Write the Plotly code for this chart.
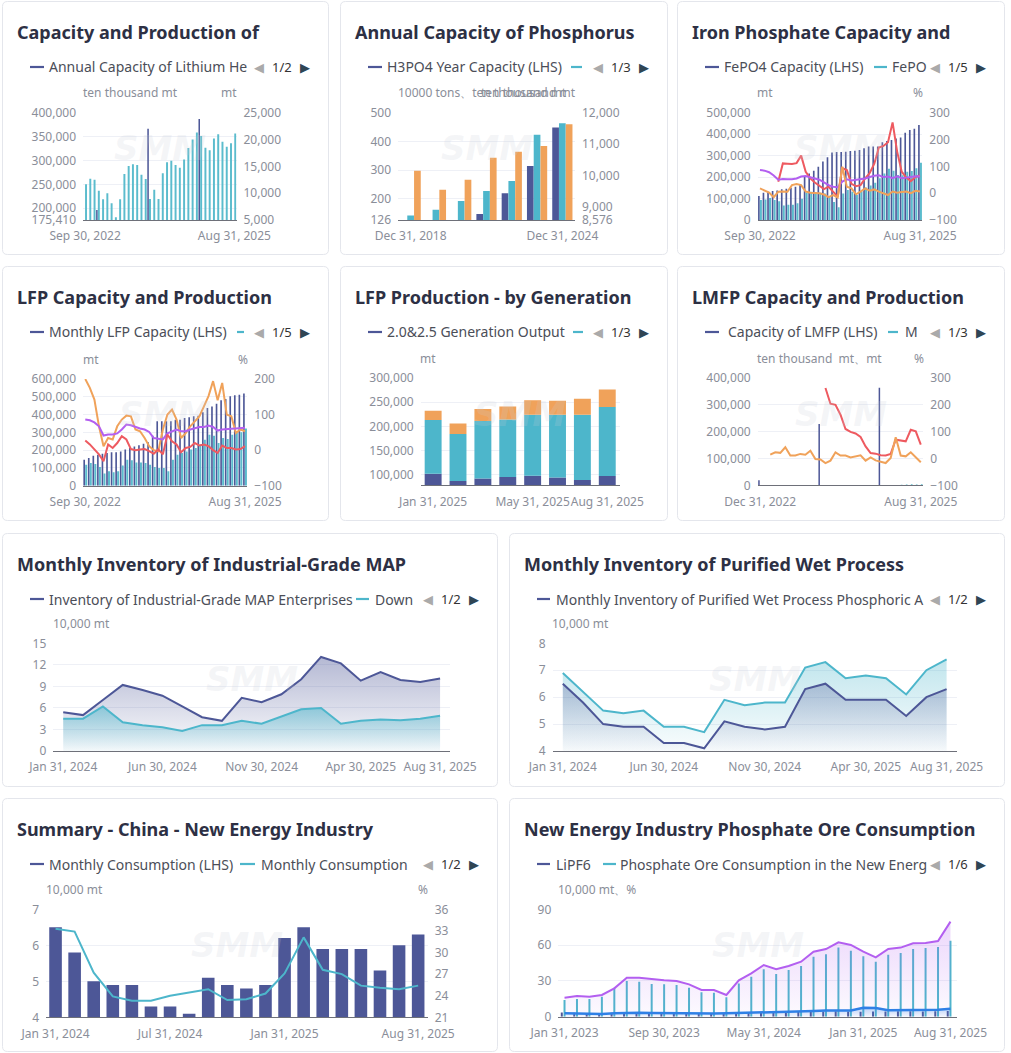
import plotly.graph_objects as go
import pandas as pd

W, H = 1011, 1053
FONT = "Noto Sans"
NAVY = "#4d5797"
TEAL = "#4db6cb"
TEAL_BAR = "#5bbccd"
ORANGE = "#f0a25a"
RED = "#ee5a60"
PURPLE = "#b35ff0"
BLUE = "#2f80e6"
GRID = "#eef0f6"
AXLINE = "#6e7079"
TICKC = "#8a8e99"
TITLEC = "#2d3044"
LEGC = "#4b4e58"


def month_ends(start, end):
    return [d.strftime("%b %d, %Y") for d in pd.date_range(start, end, freq="ME")]


# ---------------------------------------------------------------- data
# Panel 1 - Capacity and Production of Lithium Hexafluorophosphate
P1_DATES = month_ends("2022-09-01", "2025-08-31")
P1_CAP_DATES = ["Dec 31, 2022", "Dec 31, 2023", "Dec 31, 2024"]
P1_CAPACITY = [196300, 366500, 386750]
P1_PRODUCTION = [11650, 12700, 12500, 10470, 8850, 10000, 8100, 5500, 8850, 13570,
                 15060, 15370, 15250, 13450, 12640, 8900, 10650, 8900, 13700, 15750,
                 16060, 15250, 14750, 16300, 18400, 20000, 21300, 20650, 18480, 18000,
                 20200, 21000, 19600, 18660, 19300, 21100]

# Panel 2 - Annual Capacity of Phosphorus
P2_YEARS = ["Dec 31, 2018", "Dec 31, 2019", "Dec 31, 2020", "Dec 31, 2021",
            "Dec 31, 2022", "Dec 31, 2023", "Dec 31, 2024"]
P2_H3PO4_CAP = [None, None, None, 147, 219, 314, 448]
P2_SERIES_2 = [142, 162, 192, 227, 262, 423, 463]
P2_SERIES_3 = [10150, 9544, 9863, 10565, 10757, 10938, 11629]

# Panel 3 - Iron Phosphate Capacity and Production
P3_DATES = month_ends("2022-09-01", "2025-08-31")
P3_CAPACITY = [111800, 127000, 132000, 135000, 137000, 143000, 146000, 150000, 155000, 163000,
               202000, 217000, 230000, 248000, 273000, 292000, 314000, 317000, 317000, 318000,
               321000, 323000, 326000, 334000, 342000, 342000, 342000, 362000, 368000, 373000,
               380000, 385000, 407000, 419000, 425000, 443000]
P3_PRODUCTION = [93000, 96000, 102000, 93000, 87000, 67000, 71000, 71000, 78000, 99000,
                 127000, 132000, 127000, 127000, 124000, 106000, 84000, 59000, 124000, 140000,
                 132000, 116000, 132000, 151000, 161000, 174000, 194000, 217000, 239000, 230000,
                 210000, 208000, 225000, 228000, 241000, 267000]
P3_RATE_RED = [None, None, None, None, 43, 111, 110, 109, 112, 140,
               80, 55, 40, 28, 15, 24, 5, -13, 93, 86,
               35, 26, 30, 55, 75, 110, 170, 176, 190, 264,
               155, 80, 58, 45, 60, 66]
P3_RATE_PURPLE = [86, 84, 78, 66, 50, 53, 52, 52, 55, 62,
                  64, 60, 56, 50, 40, 30, 24, 22, 43, 52,
                  47, 49, 52, 55, 60, 65, 67, 60, 62, 56,
                  63, 56, 58, 60, 63, 62]
P3_RATE_ORANGE = [18, 9, 2, -15, 5, 6, 5, 30, 34, 30,
                  6, 2, 2, 0, -5, -15, -7, -16, 99, 24,
                  18, -4, 6, 18, 9, 14, 6, 0, -7, 6,
                  2, 4, 6, 0, 9, 6]

# Panel 4 - LFP Capacity and Production
P4_DATES = month_ends("2022-09-01", "2025-08-31")
P4_CAPACITY = [146000, 156000, 169000, 174000, 180000, 184000, 188000, 188000, 193000, 203000,
               212000, 221000, 227000, 236000, 244000, 281000, 362000, 362000, 362000, 362000,
               371000, 371000, 381000, 385000, 390000, 394000, 413000, 437000, 446000, 461000,
               480000, 488000, 503000, 508000, 512000, 518000]
P4_PRODUCTION = [118000, 128000, 122000, 105000, 68000, 81000, 75000, 81000, 113000, 146000,
                 143000, 131000, 131000, 128000, 118000, 105000, 99000, 99000, 81000, 146000,
                 174000, 184000, 193000, 203000, 212000, 231000, 259000, 287000, 281000, 240000,
                 268000, 263000, 287000, 296000, 300000, 321000]
P4_RATE_ORANGE = [200, 175, 142, 67, 11, 34, 30, 67, 86, 97,
                  95, 58, 53, 34, 11, 0, -3, 58, 100, 114,
                  86, 34, 48, 67, 81, 95, 123, 152, 194, 140,
                  189, 100, 95, 48, 58, 53]
P4_RATE_PURPLE = [86, 84, 78, 67, 41, 44, 44, 47, 58, 72,
                  70, 65, 61, 58, 51, 34, 32, 30, 47, 53,
                  58, 53, 53, 58, 61, 65, 65, 69, 65, 55,
                  58, 58, 60, 61, 61, 63]
P4_RATE_RED = [27, 16, 2, -12, -31, 16, 6, 20, 39, 30,
               3, 0, 2, 3, -3, -10, 2, -12, 44, 25,
               16, -6, 6, 9, 20, 13, 16, 11, 0, -8,
               13, 6, 6, 2, 3, 11]

# Panel 5 - LFP Production by Generation (stacked)
P5_DATES = month_ends("2025-01-01", "2025-08-31")
P5_GEN_2_25 = [102000, 87000, 92000, 95000, 98000, 94000, 89000, 97000]
P5_GEN_3 = [111000, 97000, 119000, 119000, 126000, 130000, 135000, 143000]
P5_GEN_4 = [19000, 22000, 25000, 27000, 30000, 29000, 33000, 36000]

# Panel 6 - LMFP Capacity and Production
P6_DATES = month_ends("2022-12-01", "2025-08-31")
P6_CAP_DATES = ["Dec 31, 2022", "Dec 31, 2023", "Dec 31, 2024"]
P6_CAPACITY = [18600, 228600, 364000]
P6_PRODUCTION = [None] * 28 + [2500, 3000, 3500, 3000, 3800]
P6_RATE_RED = [None] * 13 + [263, 204, 200, 163, 110, 99, 93, 80, 45, 20,
                             18, 12, 11, 17, 70, 68, 64, 107, 101, 52]
P6_RATE_ORANGE = [None, None, 14, 23, 21, 42, 11, 11, 17, 14, 29, -2, -4, -17, -8, 23,
                  11, 11, 4, 8, 12, -8, 4, -7, -13, -17, 2, 79, 11, 8, 23, 6, -14]

# Panel 7 - Monthly Inventory of Industrial-Grade MAP
P7_DATES = month_ends("2024-01-01", "2025-08-31")
P7_ENTERPRISES = [5.4, 5.0, 7.1, 9.2, 8.5, 7.7, 6.2, 4.7, 4.2, 7.4,
                  6.8, 7.9, 10.0, 13.1, 12.2, 9.8, 11.0, 9.9, 9.6, 10.1]
P7_DOWNSTREAM = [4.5, 4.5, 6.2, 4.0, 3.6, 3.3, 2.8, 3.6, 3.6, 4.2,
                 3.8, 4.8, 5.8, 6.0, 3.8, 4.2, 4.4, 4.3, 4.5, 4.9]

# Panel 8 - Monthly Inventory of Purified Wet Process Phosphoric Acid
P8_DATES = month_ends("2024-01-01", "2025-08-31")
P8_SERIES_1 = [6.5, 5.8, 5.0, 4.9, 4.9, 4.3, 4.3, 4.1, 5.1, 4.9,
               4.8, 4.9, 6.3, 6.5, 5.9, 5.9, 5.9, 5.3, 6.0, 6.3]
P8_SERIES_2 = [6.9, 6.2, 5.5, 5.4, 5.5, 4.9, 4.9, 4.7, 5.9, 5.7,
               5.8, 5.8, 7.1, 7.3, 6.7, 6.8, 6.7, 6.1, 7.0, 7.4]

# Panel 9 - Summary - China - New Energy Industry
P9_DATES = month_ends("2024-01-01", "2025-08-31")
P9_CONSUMPTION = [6.5, 5.8, 5.0, 4.9, 4.9, 4.3, 4.3, 4.1, 5.1, 4.9,
                  4.8, 4.9, 6.2, 6.5, 5.9, 5.9, 5.9, 5.3, 6.0, 6.3]
P9_SHARE = [33.3, 32.9, 27.2, 23.9, 23.3, 23.3, 24.0, 24.4, 24.9, 23.4,
            23.5, 24.3, 27.1, 32.1, 27.6, 27.0, 25.4, 25.1, 24.9, 25.4]

# Panel 10 - New Energy Industry Phosphate Ore Consumption
P10_DATES = month_ends("2023-01-01", "2025-08-31")
P10_LIPF6 = [3.5, 3.3, 3.0, 3.2, 3.4, 3.8, 3.8, 3.6, 3.5, 3.6,
             3.3, 3.0, 3.1, 3.2, 3.5, 3.7, 4.0, 3.9, 4.0, 4.1,
             4.2, 4.3, 4.5, 4.4, 4.2, 4.3, 4.4, 4.5, 4.5, 4.4,
             4.6, 4.8]
P10_ORE = [14.0, 14.8, 14.8, 16.8, 24.3, 29.9, 29.3, 27.4, 27.1, 26.6,
           24.3, 20.4, 20.1, 16.2, 27.9, 33.5, 39.7, 35.8, 39.1, 42.5,
           50.3, 52.3, 57.9, 55.3, 50.6, 46.1, 52.0, 53.4, 56.7, 57.6,
           58.4, 63.7]
P10_TOTAL = [15.9, 17.3, 16.8, 18.2, 23.8, 32.7, 32.7, 31.3, 30.5, 29.9,
             27.1, 22.4, 22.4, 18.2, 30.5, 36.3, 43.3, 39.7, 42.5, 46.1,
             54.5, 56.7, 62.3, 60.1, 54.5, 49.7, 56.7, 57.9, 61.5, 61.8,
             63.4, 79.7]
P10_OTHER = [2.8, 2.5, 2.0, 2.2, 2.8, 3.4, 3.4, 3.2, 3.0, 3.1,
             2.8, 2.4, 2.6, 2.8, 3.0, 3.2, 4.0, 3.8, 4.0, 4.2,
             4.8, 5.2, 5.5, 5.3, 7.5, 7.3, 5.4, 5.6, 5.6, 5.4,
             5.9, 6.6]

# ---------------------------------------------------------------- layout geometry (px)
CARDS = {
    1: (2, 1, 329, 255), 2: (340, 1, 668, 255), 3: (677, 1, 1005, 255),
    4: (2, 266, 329, 521), 5: (340, 266, 668, 521), 6: (677, 266, 1005, 521),
    7: (2, 533, 498, 787), 8: (509, 533, 1005, 787),
    9: (2, 798, 498, 1052), 10: (509, 798, 1005, 1052),
}
PLOTS = {
    1: (83, 112.7, 236.5, 220), 2: (398, 112.7, 575, 220), 3: (757.7, 112.7, 922.3, 220),
    4: (83, 379, 247.3, 485.7), 5: (420.7, 378, 619.7, 485.3), 6: (757.7, 378, 923.3, 485.3),
    7: (53.3, 643.3, 450, 751), 8: (552.7, 643.3, 956.7, 751),
    9: (46, 909.3, 427.7, 1017.3), 10: (558.3, 909.3, 956.7, 1016.7),
}
RIGHT = {1: 11, 2: 12, 3: 13, 4: 14, 6: 16, 9: 19}


def fx(x):
    return x / W


def fy(y):
    return 1 - y / H


def sfx(k):
    return "" if k == 1 else str(k)


layout = dict(
    width=W, height=H, margin=dict(l=0, r=0, t=0, b=0, pad=0, autoexpand=False),
    autosize=False, paper_bgcolor="white", plot_bgcolor="rgba(0,0,0,0)", showlegend=False,
    barmode="overlay", hovermode=False,
    font=dict(family=FONT, size=12, color=TICKC),
)
shapes, annotations = [], []
fig = go.Figure()


def x_axis(k, cats, ticks):
    x0, y0, x1, y1 = PLOTS[k]
    layout["xaxis" + sfx(k)] = dict(
        domain=[fx(x0), fx(x1)], anchor="y" + sfx(k), type="category",
        categoryorder="array", categoryarray=cats, range=[-0.5, len(cats) - 0.5],
        tickmode="array", tickvals=ticks, ticktext=ticks, showgrid=False,
        showline=True, linecolor=AXLINE, linewidth=1, ticks="", zeroline=False,
        tickfont=dict(size=12, color=TICKC, family=FONT), ticklabelstandoff=5,
        fixedrange=True, tickangle=0, automargin=False)


def y_axis(k, rng, tickvals, right=False):
    x0, y0, x1, y1 = PLOTS[k]
    key = "yaxis" + (str(RIGHT[k]) if right else sfx(k))
    d = dict(domain=[fy(y1), fy(y0)], anchor="x" + sfx(k), range=rng,
             tickmode="array", tickvals=tickvals, tickformat=",", separatethousands=True,
             showline=False, zeroline=False, ticks="",
             tickfont=dict(size=12, color=TICKC, family=FONT), ticklabelstandoff=6,
             fixedrange=True, automargin=False)
    if right:
        d.update(overlaying="y" + sfx(k), side="right", showgrid=False)
    else:
        d.update(showgrid=True, gridcolor=GRID, gridwidth=1)
    layout[key] = d


def yref(k, right):
    return "y" + (str(RIGHT[k]) if right else sfx(k))


def bar(k, x, y, color, offset, width, right=False, base=None):
    fig.add_trace(go.Bar(x=x, y=y, base=base, offset=offset, width=width,
                         marker=dict(color=color, line=dict(width=0)),
                         xaxis="x" + sfx(k), yaxis=yref(k, right)))


def line(k, x, y, color, right=False, width=2, grad=None):
    kw = {}
    if grad is not None:
        kw = dict(fill="tozeroy", fillgradient=dict(type="vertical", colorscale=grad[0],
                                                  start=grad[1], stop=grad[2]))
    fig.add_trace(go.Scatter(x=x, y=y, mode="lines", line=dict(color=color, width=width),
                             connectgaps=False, xaxis="x" + sfx(k), yaxis=yref(k, right), **kw))


# ---------------------------------------------------------------- panel 1
x_axis(1, P1_DATES, [P1_DATES[0], P1_DATES[-1]])
y_axis(1, [175410, 400000], [175410, 200000, 250000, 300000, 350000, 400000])
y_axis(1, [5000, 25000], [5000, 10000, 15000, 20000, 25000], right=True)
bar(1, P1_CAP_DATES, P1_CAPACITY, NAVY, -0.42, 0.36)
bar(1, P1_DATES, P1_PRODUCTION, TEAL_BAR, -0.02, 0.46, right=True)

# ---------------------------------------------------------------- panel 2
x_axis(2, P2_YEARS, [P2_YEARS[0], P2_YEARS[-1]])
y_axis(2, [126, 500], [126, 200, 300, 400, 500])
y_axis(2, [8576, 12000], [8576, 9000, 10000, 11000, 12000], right=True)
bar(2, P2_YEARS, P2_H3PO4_CAP, NAVY, -0.40, 0.265)
bar(2, P2_YEARS, P2_SERIES_2, TEAL, -0.133, 0.265)
bar(2, P2_YEARS, P2_SERIES_3, ORANGE, 0.135, 0.265, right=True)

# ---------------------------------------------------------------- panel 3
x_axis(3, P3_DATES, [P3_DATES[0], P3_DATES[-1]])
y_axis(3, [0, 500000], [0, 100000, 200000, 300000, 400000, 500000])
y_axis(3, [-100, 300], [-100, 0, 100, 200, 300], right=True)
bar(3, P3_DATES, P3_CAPACITY, NAVY, -0.42, 0.36)
bar(3, P3_DATES, P3_PRODUCTION, TEAL_BAR, -0.02, 0.44)
line(3, P3_DATES, P3_RATE_RED, RED, right=True)
line(3, P3_DATES, P3_RATE_PURPLE, PURPLE, right=True)
line(3, P3_DATES, P3_RATE_ORANGE, ORANGE, right=True)

# ---------------------------------------------------------------- panel 4
x_axis(4, P4_DATES, [P4_DATES[0], P4_DATES[-1]])
y_axis(4, [0, 600000], [0, 100000, 200000, 300000, 400000, 500000, 600000])
y_axis(4, [-100, 200], [-100, 0, 100, 200], right=True)
bar(4, P4_DATES, P4_CAPACITY, NAVY, -0.42, 0.36)
bar(4, P4_DATES, P4_PRODUCTION, TEAL_BAR, -0.02, 0.44)
line(4, P4_DATES, P4_RATE_ORANGE, ORANGE, right=True)
line(4, P4_DATES, P4_RATE_PURPLE, PURPLE, right=True)
line(4, P4_DATES, P4_RATE_RED, RED, right=True)

# ---------------------------------------------------------------- panel 5
x_axis(5, P5_DATES, [P5_DATES[0], P5_DATES[4], P5_DATES[7]])
y_axis(5, [78000, 300000], [100000, 150000, 200000, 250000, 300000])
bar(5, P5_DATES, P5_GEN_2_25, NAVY, -0.34, 0.68)
bar(5, P5_DATES, P5_GEN_3, TEAL, -0.34, 0.68, base=P5_GEN_2_25)
bar(5, P5_DATES, P5_GEN_4, ORANGE, -0.34, 0.68,
    base=[a + b for a, b in zip(P5_GEN_2_25, P5_GEN_3)])

# ---------------------------------------------------------------- panel 6
x_axis(6, P6_DATES, [P6_DATES[0], P6_DATES[-1]])
y_axis(6, [0, 400000], [0, 100000, 200000, 300000, 400000])
y_axis(6, [-100, 300], [-100, 0, 100, 200, 300], right=True)
bar(6, P6_CAP_DATES, P6_CAPACITY, NAVY, -0.40, 0.30)
bar(6, P6_DATES, P6_PRODUCTION, TEAL_BAR, 0.02, 0.34)
line(6, P6_DATES, P6_RATE_RED, RED, right=True)
line(6, P6_DATES, P6_RATE_ORANGE, ORANGE, right=True)

# ---------------------------------------------------------------- panel 7
x_axis(7, P7_DATES, [P7_DATES[i] for i in (0, 5, 10, 15, 19)])
y_axis(7, [0, 15], [0, 3, 6, 9, 12, 15])
line(7, P7_DATES, P7_ENTERPRISES, NAVY,
     grad=([[0, "rgba(77,87,151,0.02)"], [1, "rgba(77,87,151,0.42)"]], 0, max(P7_ENTERPRISES)))
line(7, P7_DATES, P7_DOWNSTREAM, TEAL,
     grad=([[0, "rgba(77,182,203,0.04)"], [1, "rgba(77,182,203,0.55)"]], 0, max(P7_DOWNSTREAM)))

# ---------------------------------------------------------------- panel 8
x_axis(8, P8_DATES, [P8_DATES[i] for i in (0, 5, 10, 15, 19)])
y_axis(8, [4, 8], [4, 5, 6, 7, 8])
line(8, P8_DATES, P8_SERIES_2, TEAL,
     grad=([[0, "rgba(77,182,203,0.03)"], [1, "rgba(77,182,203,0.35)"]], 4, max(P8_SERIES_2)))
line(8, P8_DATES, P8_SERIES_1, NAVY,
     grad=([[0, "rgba(77,87,151,0.02)"], [1, "rgba(77,87,151,0.32)"]], 4, max(P8_SERIES_1)))

# ---------------------------------------------------------------- panel 9
x_axis(9, P9_DATES, [P9_DATES[i] for i in (0, 6, 12, 19)])
y_axis(9, [4, 7], [4, 5, 6, 7])
y_axis(9, [21, 36], [21, 24, 27, 30, 33, 36], right=True)
bar(9, P9_DATES, P9_CONSUMPTION, NAVY, -0.33, 0.66)
line(9, P9_DATES, P9_SHARE, TEAL, right=True)

# ---------------------------------------------------------------- panel 10
x_axis(10, P10_DATES, [P10_DATES[i] for i in (0, 8, 16, 24, 31)])
y_axis(10, [0, 90], [0, 30, 60, 90])
bar(10, P10_DATES, P10_LIPF6, NAVY, -0.30, 0.16)
bar(10, P10_DATES, P10_ORE, TEAL, -0.08, 0.16)
line(10, P10_DATES, P10_TOTAL, PURPLE,
     grad=([[0, "rgba(179,95,240,0.03)"], [1, "rgba(179,95,240,0.25)"]], 0, max(P10_TOTAL)))
line(10, P10_DATES, P10_OTHER, BLUE, width=2.5,
     grad=([[0, "rgba(47,128,230,0.05)"], [1, "rgba(47,128,230,0.3)"]], 0, max(P10_OTHER)))

# ---------------------------------------------------------------- cards
def rrect(x0, y0, x1, y1, r=5):
    pts = [
        ("M", [(x0 + r, y0)]), ("L", [(x1 - r, y0)]), ("Q", [(x1, y0), (x1, y0 + r)]),
        ("L", [(x1, y1 - r)]), ("Q", [(x1, y1), (x1 - r, y1)]), ("L", [(x0 + r, y1)]),
        ("Q", [(x0, y1), (x0, y1 - r)]), ("L", [(x0, y0 + r)]), ("Q", [(x0, y0), (x0 + r, y0)]),
    ]
    s = ""
    for cmd, ps in pts:
        s += cmd + " ".join(f"{fx(a):.6f},{fy(b):.6f}" for a, b in ps) + " "
    return s + "Z"


for k, (x0, y0, x1, y1) in CARDS.items():
    shapes.append(dict(type="path", path=rrect(x0 + 0.5, y0 + 0.5, x1 - 0.5, y1 - 0.5),
                       xref="paper", yref="paper", line=dict(color="#e4e6ec", width=1),
                       fillcolor="white", layer="below"))

TITLES = {
    1: "Capacity and Production of",
    2: "Annual Capacity of Phosphorus",
    3: "Iron Phosphate Capacity and",
    4: "LFP Capacity and Production",
    5: "LFP Production - by Generation",
    6: "LMFP Capacity and Production",
    7: "Monthly Inventory of Industrial-Grade MAP",
    8: "Monthly Inventory of Purified Wet Process",
    9: "Summary - China - New Energy Industry",
    10: "New Energy Industry Phosphate Ore Consumption",
}
# legend entries: (color, dash x0, dash x1, text x, text)
LEGENDS = {
    1: [(NAVY, 30, 44, 49, "Annual Capacity of Lithium He")],
    2: [(NAVY, 368, 382, 387, "H3PO4 Year Capacity (LHS)"), (TEAL, 571, 582, None, "")],
    3: [(NAVY, 705, 719, 724, "FePO4 Capacity (LHS)"), (TEAL, 874, 887, 892, "FePO")],
    4: [(NAVY, 30, 44, 49, "Monthly LFP Capacity (LHS)"), (TEAL, 237, 244, None, "")],
    5: [(NAVY, 368, 382, 387, "2.0&2.5 Generation Output"), (TEAL, 573, 583, None, "")],
    6: [(NAVY, 705, 719, 728, "Capacity of LMFP (LHS)"), (TEAL, 888, 898, 905, "M")],
    7: [(NAVY, 30, 44, 49, "Inventory of Industrial-Grade MAP Enterprises"),
        (TEAL, 356, 369, 375, "Down")],
    8: [(NAVY, 537, 550, 556, "Monthly Inventory of Purified Wet Process Phosphoric A")],
    9: [(NAVY, 30, 44, 49, "Monthly Consumption (LHS)"),
        (TEAL, 240, 255, 261, "Monthly Consumption")],
    10: [(NAVY, 537, 550, 556, "LiPF6"),
         (TEAL, 603, 616, 620, "Phosphate Ore Consumption in the New Energ")],
}
PAGES = {1: "1/2", 2: "1/3", 3: "1/5", 4: "1/5", 5: "1/3", 6: "1/3",
         7: "1/2", 8: "1/2", 9: "1/2", 10: "1/6"}
# axis names: (left text, right text)
AXIS_NAMES = {
    1: ("ten thousand mt", "mt"),
    2: ("10000 tons\u3001ten thousand mt", "ten thousand mt"),
    3: ("mt", "%"),
    4: ("mt", "%"),
    5: ("mt", None),
    6: ("ten thousand  mt\u3001mt", "%"),
    7: ("10,000 mt", None),
    8: ("10,000 mt", None),
    9: ("10,000 mt", "%"),
    10: ("10,000 mt\u3001%", None),
}
PAD = 2.5  # annotation box padding compensation


def text(x, y, s, size, color, xanchor="left", bold=False):
    shift = -PAD if xanchor == "left" else (PAD if xanchor == "right" else 0)
    annotations.append(dict(
        x=fx(x + shift), y=fy(y), xref="paper", yref="paper", showarrow=False,
        text=("<b>%s</b>" % s) if bold else s, xanchor=xanchor, yanchor="middle",
        font=dict(family=FONT, size=size, color=color)))


for k, (cx0, cy0, cx1, cy1) in CARDS.items():
    text(cx0 + 15.5, cy0 + 30.5, TITLES[k], 18, TITLEC, bold=True)
    ly = cy0 + 66
    for color, d0, d1, tx, s in LEGENDS[k]:
        shapes.append(dict(type="line", xref="paper", yref="paper",
                           x0=fx(d0), x1=fx(d1), y0=fy(ly), y1=fy(ly),
                           line=dict(color=color, width=2.2)))
        if tx is not None and s:
            text(tx, ly, s, 14, LEGC)
    text(cx1 - 70, ly, "\u25C0", 13, "#aaaaaa", xanchor="center")
    text(cx1 - 47, ly, PAGES[k], 13, "#333333", xanchor="center")
    text(cx1 - 24, ly, "\u25B6", 13, "#2f4554", xanchor="center")
    px0, py0, px1, py1 = PLOTS[k]
    left_name, right_name = AXIS_NAMES[k]
    if left_name:
        text(px0, py0 - 20, left_name, 12, TICKC)
    if right_name:
        text(px1, py0 - 20, right_name, 12, TICKC, xanchor="right")
    annotations.append(dict(
        x=fx((px0 + px1) / 2), y=fy((py0 + py1) / 2 - 18), xref="paper", yref="paper",
        showarrow=False, text="<b><i>SMM</i></b>", xanchor="center", yanchor="middle",
        font=dict(family="DejaVu Sans", size=34, color="rgba(200,205,215,0.2)")))

layout["shapes"] = shapes
layout["annotations"] = annotations
fig.update_layout(**layout)
fig.update_traces(hoverinfo="skip")

fig.write_html("out.html", config={"displayModeBar": False, "staticPlot": True},
               post_script="document.body.style.margin='0';document.body.style.overflow='hidden';")
